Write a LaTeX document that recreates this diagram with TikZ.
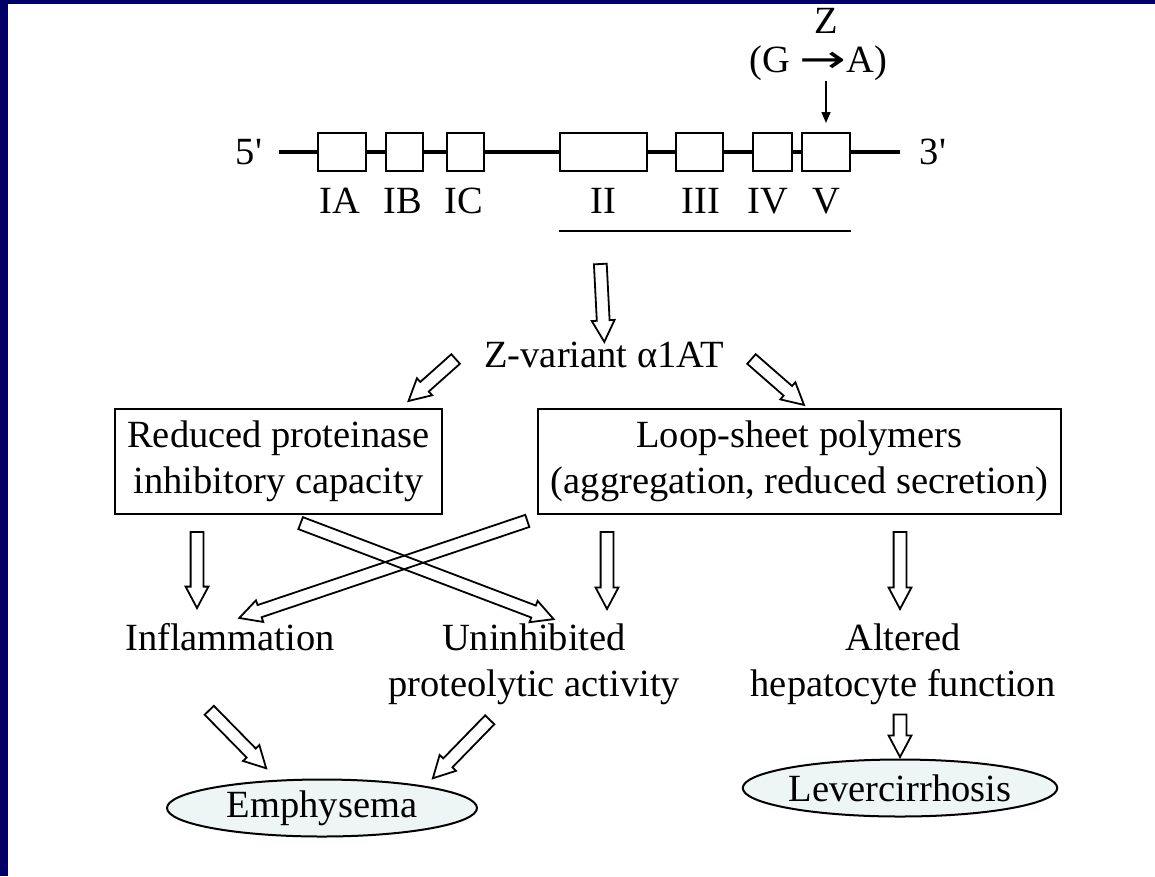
\documentclass[tikz,border=0pt]{standalone}
\usepackage{fontspec}
\setmainfont{Liberation Serif}
\newfontfamily\arrowfont{DejaVu Sans}
\usetikzlibrary{arrows.meta,shapes.arrows,shapes.geometric,calc}
\definecolor{slidenavy}{RGB}{0,0,102}
\definecolor{dotfill}{RGB}{238,245,245}

\tikzset{
  lbl/.style={font=\fontsize{38.5}{46}\selectfont, inner sep=0pt, align=center},
  exon/.style={draw, line width=2pt, fill=white, minimum height=38pt, inner sep=0pt},
  infobox/.style={lbl, draw, line width=2pt, minimum height=105pt},
  outcome/.style={lbl, ellipse, draw, line width=2pt, fill=dotfill, minimum width=310pt, minimum height=57pt},
  fatarrow/.style={single arrow, draw, line width=1.8pt, inner xsep=0pt, inner ysep=5.5pt,
    single arrow head extend=5pt, single arrow tip angle=56, single arrow head indent=0pt},
  hollow/.style={to path={let \p1=(\tikztostart), \p2=(\tikztotarget),
    \n1={atan2(\y2-\y1,\x2-\x1)}, \n2={veclen(\x2-\x1,\y2-\y1)} in
    node[fatarrow, rotate=\n1, minimum height=\n2] at ($(\p1)!0.5!(\p2)$) {} (\tikztotarget)}}
}

\begin{document}
\begin{tikzpicture}[x=1pt,y=-1pt]
\useasboundingbox (0,0) rectangle (1155,876);
\fill[slidenavy] (0,0) rectangle (1155,4);
\fill[slidenavy] (0,0) rectangle (8,876);

% gene with exons
\node[lbl, outer sep=17pt] (five) at (249,152) {5\textquotesingle};
\node[lbl, outer sep=20pt] (three) at (933,152) {3\textquotesingle};
\draw[line width=4.5pt] (five) -- (three);
\node[exon, minimum width=48pt] (ia) at (342,152) {};
\node[exon, minimum width=37pt] (ib) at (404.5,152) {};
\node[exon, minimum width=37pt] (ic) at (465.5,152) {};
\node[exon, minimum width=87pt] (ii) at (603.5,152) {};
\node[exon, minimum width=47pt] (iii) at (699.5,152) {};
\node[exon, minimum width=39pt] (iv) at (772.5,152) {};
\node[exon, minimum width=48pt] (v) at (826,152) {};
\node[lbl] (lia) at (340,201) {IA};
\node[lbl] (lib) at (403,201) {IB};
\node[lbl] (lic) at (464,201) {IC};
\node[lbl] (lii) at (603,201) {II};
\node[lbl] (liii) at (701,201) {III};
\node[lbl] (liv) at (768,201) {IV};
\node[lbl] (lv) at (826,201) {V};
\draw[line width=2pt] ([yshift=-59pt]ii.south west) -- ([yshift=-59pt]v.south east);
\coordinate (exbar) at (600,230);

% Z mutation
\node[lbl] (zlab) at (826,21) {Z};
\node[lbl] (gta) at (818,63) {(G \scalebox{1.45}[1]{\arrowfont →}A)};
\draw[-{Triangle[length=11pt,width=9pt]}, line width=1.5pt, shorten >=9pt]
  (gta.south -| v.north) -- (v.north);

% protein and its effects
\node[lbl] (zvar) at (604,355) {Z-variant α1AT};
\node[infobox, minimum width=327pt] (red) at (278.5,461.5) {Reduced proteinase\\inhibitory capacity};
\node[infobox, minimum width=523pt] (loop) at (799.5,461.5) {Loop-sheet polymers\\(aggregation, reduced secretion)};
\node[lbl] (inflam) at (230,637) {Inflammation};
\node[lbl, anchor=north] (unin) at (534,624) {Uninhibited\\proteolytic activity};
\node[lbl, anchor=north] (alt) at (903,624) {Altered\\hepatocyte function};
\node[outcome] (emph) at (322,808) {Emphysema};
\node[outcome] (lever) at (900,788) {Levercirrhosis};

\path ([yshift=-28pt]exbar) to[hollow] ([yshift=6pt]zvar.north);
\path ([xshift=-24pt]zvar.west) to[hollow] ([xshift=-30pt,yshift=11pt]red.north east);
\path ([xshift=23pt]zvar.east) to[hollow] ([yshift=7pt]loop.north);
\path ([xshift=-81.5pt,yshift=-11pt]red.south) to[hollow] ([xshift=-33pt,yshift=21pt]inflam.north);
\path ([xshift=-192.5pt,yshift=-11pt]loop.south) to[hollow] ([xshift=73pt,yshift=21pt]unin.north);
\path ([xshift=100.5pt,yshift=-11pt]loop.south) to[hollow] ([xshift=-3pt,yshift=21pt]alt.north);
\path ([xshift=-4pt,yshift=-4pt]loop.south west) to[hollow] ([xshift=15pt,yshift=7pt]inflam.north);
\path ([xshift=16.5pt,yshift=-6pt]red.south) to[hollow] ([xshift=14pt,yshift=7pt]unin.north);
\path ([xshift=-25pt,yshift=-55pt]inflam.south) to[hollow] ([xshift=-60pt,yshift=14.5pt]emph.north);
\path ([xshift=-40pt,yshift=-10pt]unin.south) to[hollow] ([xshift=115pt,yshift=4.5pt]emph.north);
\path ([xshift=-3pt,yshift=-3pt]alt.south) to[hollow] ([yshift=7.5pt]lever.north);
\end{tikzpicture}
\end{document}
